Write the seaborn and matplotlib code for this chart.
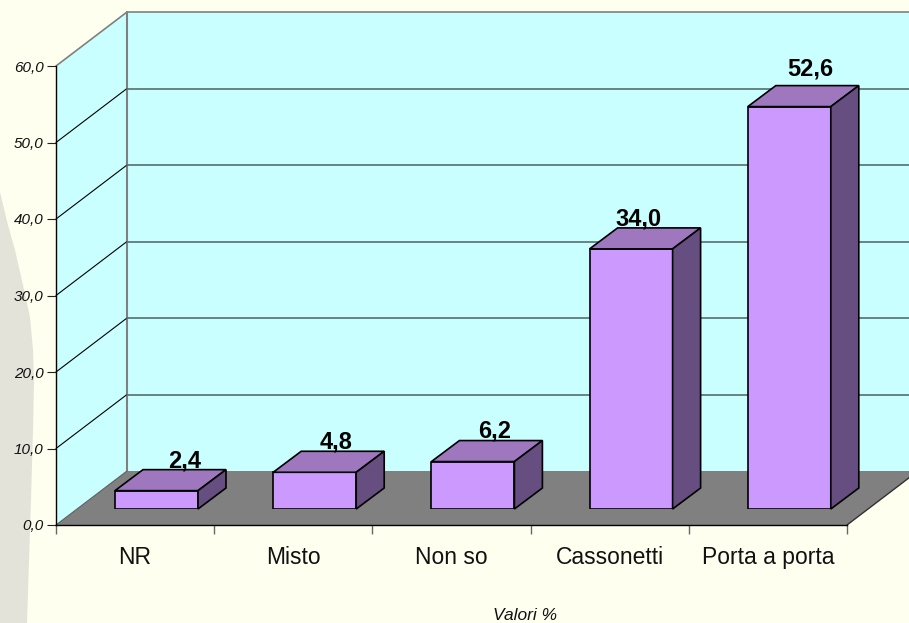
import matplotlib
matplotlib.use("Agg")
import matplotlib.pyplot as plt
from matplotlib.patches import Polygon
import seaborn as sns

# values
categories = ["NR", "Misto", "Non so", "Cassonetti", "Porta a porta"]
values = [2.4, 4.8, 6.2, 34.0, 52.6]
y_ticks = [0, 10, 20, 30, 40, 50, 60]
y_tick_labels = ["0,0", "10,0", "20,0", "30,0", "40,0", "50,0", "60,0"]
bar_labels = ["2,4", "4,8", "6,2", "34,0", "52,6"]

W, H = 909, 623
BG = "#FFFFF0"
WALL = "#CAFFFF"
FLOOR = "#808080"
FRONT = "#CC99FF"
TOP = "#9F77BF"
SIDE = "#664E80"

sns.set_theme(style="white")
plt.rcParams["font.family"] = ["Liberation Sans", "DejaVu Sans"]


def px_axes(fig, left, right, top, bottom):
    return fig.add_axes([left / W, 1 - bottom / H, (right - left) / W, (bottom - top) / H])


fig = plt.figure(figsize=(W / 100, H / 100), dpi=100, facecolor=BG)

# background in pixel coords: slide shape, walls, floor
bg = fig.add_axes([0, 0, 1, 1])
bg.set_xlim(0, W)
bg.set_ylim(H, 0)
bg.set_axis_off()
bg.add_patch(Polygon([(0, 192), (8, 225), (15, 250), (23, 285), (30, 317), (33, 350), (34, 383),
                      (33, 430), (31, 500), (27, 623), (0, 623)], fc="#E3E3D9", ec="none"))

x0, x1, y0, y60 = 56, 847, 525, 66
dx_wall, dy_wall = 71, 54
bg.add_patch(Polygon([(x0, y0), (x0, y60), (x0 + dx_wall, y60 - dy_wall), (W + 5, y60 - dy_wall),
                      (W + 5, y0 - dy_wall), (x0 + dx_wall, y0 - dy_wall)], fc=WALL, ec="none"))
bg.add_patch(Polygon([(x0, y0), (x0 + dx_wall, y0 - dy_wall), (x1 + dx_wall, y0 - dy_wall), (x1, y0)],
                     fc=FLOOR, ec="none"))
bg.plot([x0, x0 + dx_wall, W], [y60, y60 - dy_wall, y60 - dy_wall], color="#808080", lw=1.2)
bg.plot([x0 + dx_wall, x0 + dx_wall], [y60 - dy_wall, y0 - dy_wall], color="#808080", lw=1.5)
bg.plot([x1, x1 + dx_wall], [y0, y0 - dy_wall], color="#303030", lw=1)
bg.plot([x0, x0 + dx_wall], [y0, y0 - dy_wall], color="#606060", lw=0.8)
for v in y_ticks[1:-1]:
    yy = y0 - (y0 - y60) * v / 60
    bg.plot([x0, x0 + dx_wall], [yy, yy - dy_wall], color="black", lw=0.8)
    bg.plot([x0 + dx_wall, W], [yy - dy_wall, yy - dy_wall], color="#607878", lw=1.3)
bg.set_xlim(0, W)
bg.set_ylim(H, 0)

# front axis with ticks and labels
ax_f = px_axes(fig, x0, x1, y60, y0)
ax_f.patch.set_alpha(0)
ax_f.set_xlim(-0.5, 4.5)
ax_f.set_ylim(0, 60)
ax_f.spines["top"].set_visible(False)
ax_f.spines["right"].set_visible(False)
ax_f.spines["left"].set_color("black")
ax_f.spines["bottom"].set_color("black")
ax_f.spines["left"].set_linewidth(1)
ax_f.spines["bottom"].set_linewidth(1)
ax_f.set_yticks(y_ticks)
ax_f.set_yticklabels(y_tick_labels, fontsize=11, style="italic", color="#111111")
ax_f.tick_params(axis="y", left=True, length=6.5, width=0.8, color="#222222", pad=2.5)
ax_f.set_xticks(range(len(categories)))
ax_f.set_xticklabels(categories, fontsize=16.5, color="#111111")
ax_f.set_xticks([i - 0.5 for i in range(len(categories) + 1)], minor=True)
ax_f.tick_params(axis="x", which="major", length=0, pad=15)
ax_f.tick_params(axis="x", which="minor", bottom=True, length=6.5, width=1, color="#666666")
ax_f.set_xlabel("Valori %", fontsize=12.5, style="italic", color="#111111")
ax_f.xaxis.set_label_coords((525 - x0) / (x1 - x0), -(615 - y0) / (y0 - y60), transform=ax_f.transAxes)
ax_f.xaxis.label.set_va("center")

# bars sit back on the floor, so they get their own shifted axes
shift_x, shift_y = 21.4, 16
ax = px_axes(fig, x0 + shift_x, x1 + shift_x, y60 - shift_y, y0 - shift_y)
sns.barplot(x=categories, y=values, color=FRONT, saturation=1, width=83 / 158.2,
            edgecolor="black", linewidth=1.2, ax=ax)
ax.set_xlim(-0.5, 4.5)
ax.set_ylim(0, 60)
ax.patch.set_alpha(0)
ax.set_axis_off()

depth_x = 28 / 158.2
depth_y = 21 / ((y0 - y60) / 60)
half = (83 / 158.2) / 2
# label offsets from the top back edge of each bar, in points
label_dx = [20.5, 15.5, 16, 5, 15]
label_dy = [6.5, 7, 7, 6.5, 12]
for i, v in enumerate(values):
    l, r = i - half, i + half
    ax.add_patch(Polygon([(l, v), (r, v), (r + depth_x, v + depth_y), (l + depth_x, v + depth_y)],
                         fc=TOP, ec="black", lw=1.2, clip_on=False))
    ax.add_patch(Polygon([(r, 0), (r + depth_x, depth_y), (r + depth_x, v + depth_y), (r, v)],
                         fc=SIDE, ec="black", lw=1.2, clip_on=False))
    ax.annotate(bar_labels[i], (i, v + depth_y), xytext=(label_dx[i], label_dy[i]), textcoords="offset points",
                ha="center", va="center", fontsize=17, fontweight="bold", color="black",
                annotation_clip=False)

fig.savefig("out.png", dpi=100, facecolor=BG)
